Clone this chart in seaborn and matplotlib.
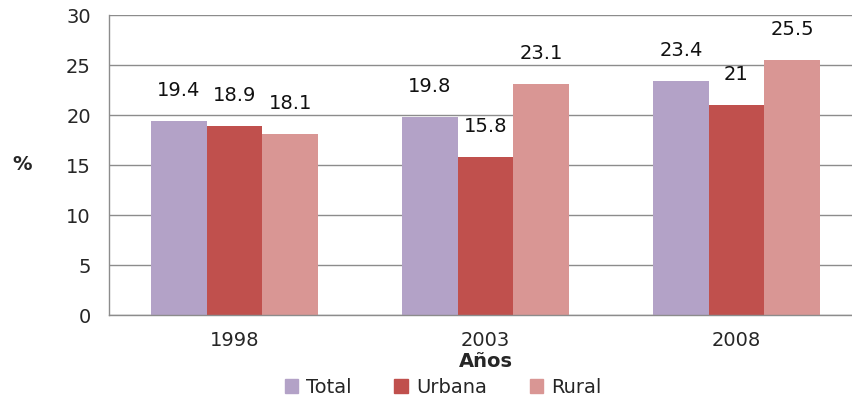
import numpy as np
import pandas as pd
import matplotlib
matplotlib.use('Agg')
from matplotlib import pyplot as plt
import seaborn as sb

# Datos del grafico
anios = ['1998', '2003', '2008']
series = ['Total', 'Urbana', 'Rural']
total = [19.4, 19.8, 23.4]
urbana = [18.9, 15.8, 21]
rural = [18.1, 23.1, 25.5]
colores = ['#B3A2C7', '#C0504D', '#D99694']

# Tabla larga para seaborn
df = pd.DataFrame({
    'Años': anios * 3,
    'Serie': [s for s in series for _ in anios],
    'Valor': total + urbana + rural,
})

sb.set_style('white')
plt.rcParams['font.family'] = ['DejaVu Sans']

fig = plt.figure(figsize=(8.53, 4.02), dpi=100)
ax = fig.add_axes([109/853, 1-316/402, 753/853, 300/402])

sb.barplot(data=df, x='Años', y='Valor', hue='Serie', palette=colores,
           width=0.665, saturation=1, edgecolor='none', ax=ax, legend=False)

# Etiquetas de valores
for cont in ax.containers:
    ax.bar_label(cont, fmt='{:g}', padding=16, fontsize=14, color='#111111')

ax.set_ylim(0, 30)
ax.set_xlim(-0.5, 2.5)
ax.set_yticks(np.arange(0, 31, 5))
ax.yaxis.grid(True, color='#8c8c8c', linewidth=1)
ax.set_axisbelow(True)
for s in ['top', 'right']:
    ax.spines[s].set_visible(False)
for s in ['left', 'bottom']:
    ax.spines[s].set_color('#8c8c8c')
    ax.spines[s].set_linewidth(1)

ax.tick_params(axis='y', length=8, color='#8c8c8c', width=1, labelsize=14, pad=5)
ax.set_xticks([0, 1, 2])
ax.set_xticks([-0.5, 0.5, 1.5], minor=True)
ax.tick_params(axis='x', which='major', length=0, labelsize=14, pad=11)
ax.tick_params(axis='x', which='minor', length=6, color='#8c8c8c', width=1)

ax.set_xlabel('Años', fontsize=14, fontweight='bold', labelpad=1)
ax.set_ylabel('')
fig.text(22/853, 1-165/402, '%', fontsize=14, fontweight='bold', ha='center', va='center')

# Leyenda
handles = [plt.Rectangle((0, 0), 1, 1, color=c) for c in colores]
fig.legend(handles, series, loc='center', bbox_to_anchor=(443/853, 1-388/402), ncol=3,
           frameon=False, prop={'size': 14},
           handlelength=0.7, handleheight=0.7, handletextpad=0.4, columnspacing=2.2)

plt.savefig('out.png', dpi=100)
plt.close()
